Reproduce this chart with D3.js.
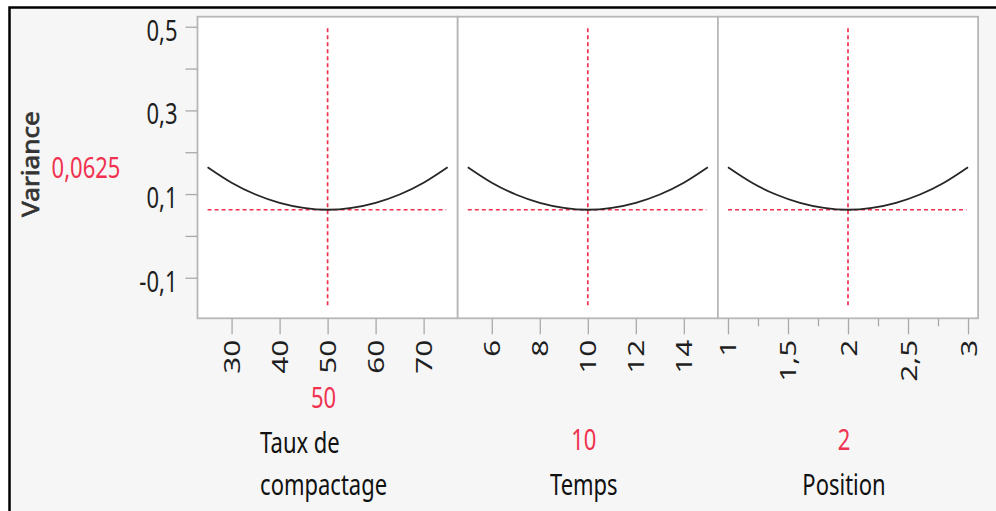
<!DOCTYPE html>
<html>
<head>
<meta charset="utf-8">
<script src="https://cdn.jsdelivr.net/npm/d3@7"></script>
<style>
  html, body { margin: 0; padding: 0; background: #fff; }
  svg { display: block; }
</style>
</head>
<body>
<div id="chart"></div>
<script>
// values
var tauxX = [25, 30, 35, 40, 45, 50, 55, 60, 65, 70, 75];
var tauxVar = [0.164, 0.127, 0.099, 0.079, 0.067, 0.0625, 0.067, 0.079, 0.099, 0.127, 0.164];
var tempsX = [5, 6, 7, 8, 9, 10, 11, 12, 13, 14, 15];
var tempsVar = [0.164, 0.127, 0.099, 0.079, 0.067, 0.0625, 0.067, 0.079, 0.099, 0.127, 0.164];
var positionX = [1, 1.2, 1.4, 1.6, 1.8, 2, 2.2, 2.4, 2.6, 2.8, 3];
var positionVar = [0.164, 0.127, 0.099, 0.079, 0.067, 0.0625, 0.067, 0.079, 0.099, 0.127, 0.164];

var tauxTicks = [30, 40, 50, 60, 70];
var tempsTicks = [6, 8, 10, 12, 14];
var positionTicks = [1, 1.5, 2, 2.5, 3];
var positionMinor = [1.25, 1.75, 2.25, 2.75];
var yTicks = [-0.1, 0.1, 0.3, 0.5];
var yMinor = [0, 0.2, 0.4];

var currentVariance = 0.0625;
var currentTaux = 50, currentTemps = 10, currentPosition = 2;
var yLabel = "Variance";

var width = 996,
    height = 511;

var red = "#f0314f",
    font = "'Noto Sans', 'Liberation Sans', sans-serif",
    stretch = 1.35;  // the screenshot is taller than it is wide

var top_ = 16.7, bottom_ = 318.3,
    left_ = 197.5, panelW = 260.2;

var fmt = d => String(d).replace(".", ",");

var svg = d3.select("#chart").append("svg")
    .attr("width", width)
    .attr("height", height);

// grey frame with black border
svg.append("rect")
    .attr("x", 9.5).attr("y", 7.5)
    .attr("width", 1100).attr("height", 600)
    .attr("fill", "#f6f6f6")
    .attr("stroke", "#000")
    .attr("stroke-width", 2.5);

var y = d3.scaleLinear()
    .domain([-0.197, 0.524])
    .range([bottom_, top_]);

var panels = [
  {title: ["Taux de", "compactage"], xs: tauxX, vs: tauxVar, domain: [22.9, 77.1], ticks: tauxTicks, minor: [], cur: currentTaux},
  {title: ["Temps"], xs: tempsX, vs: tempsVar, domain: [4.58, 15.42], ticks: tempsTicks, minor: [], cur: currentTemps},
  {title: ["Position"], xs: positionX, vs: positionVar, domain: [0.916, 3.084], ticks: positionTicks, minor: positionMinor, cur: currentPosition}
];

panels.forEach(function(p, i) {
  var x0 = left_ + i * panelW;
  var x = d3.scaleLinear().domain(p.domain).range([x0, x0 + panelW]);

  svg.append("rect")
    .attr("x", x0).attr("y", top_)
    .attr("width", panelW).attr("height", bottom_ - top_)
    .attr("fill", "#fff")
    .attr("stroke", "#b7b7b7")
    .attr("stroke-width", 1.8);

  // major ticks + rotated labels
  var gx = svg.append("g")
    .attr("transform", `translate(0,${bottom_})`)
    .call(d3.axisBottom(x).tickValues(p.ticks).tickSize(16).tickFormat(fmt));
  gx.select(".domain").remove();
  gx.selectAll(".tick line").attr("stroke", "#a9a9a9").attr("stroke-width", 1.3);
  gx.selectAll(".tick text")
    .attr("x", null).attr("y", null).attr("dy", null)
    .attr("text-anchor", "end")
    .attr("transform", `translate(8,21.5) rotate(-90) scale(${stretch},1)`)
    .style("font-family", font)
    .style("font-size", "22px")
    .attr("fill", "#1e1e1e");

  if (p.minor.length) {
    var gm = svg.append("g")
      .attr("transform", `translate(0,${bottom_})`)
      .call(d3.axisBottom(x).tickValues(p.minor).tickSize(8).tickFormat(""));
    gm.select(".domain").remove();
    gm.selectAll(".tick line").attr("stroke", "#a9a9a9").attr("stroke-width", 1.3);
  }

  // current setting cross hair
  svg.append("line")
    .attr("x1", x(p.cur)).attr("x2", x(p.cur))
    .attr("y1", top_ + 11.6).attr("y2", bottom_ - 10)
    .attr("stroke", red).attr("stroke-width", 1.7)
    .attr("stroke-dasharray", "4,3");

  svg.append("line")
    .attr("x1", x(d3.min(p.xs))).attr("x2", x(d3.max(p.xs)) - 1.5)
    .attr("y1", y(currentVariance)).attr("y2", y(currentVariance))
    .attr("stroke", red).attr("stroke-width", 1.7)
    .attr("stroke-dasharray", "4,3");

  var line = d3.line()
    .x((d, j) => x(p.xs[j]))
    .y(d => y(d))
    .curve(d3.curveNatural);

  svg.append("path")
    .datum(p.vs)
    .attr("fill", "none")
    .attr("stroke", "#262626")
    .attr("stroke-width", 1.8)
    .attr("d", line);

  // factor name and its current value under the panel
  var cx = x0 + panelW / 2 - 4;
  var n = p.title.length;
  var tg = svg.append("g");
  p.title.forEach(function(t, k) {
    tg.append("text")
      .attr("transform", `translate(${cx},${495 - 42 * (n - 1 - k)}) scale(1,${stretch})`)
      .attr("text-anchor", "middle")
      .style("font-family", font)
      .style("font-size", "22px")
      .attr("fill", "#111")
      .text(t);
  });
  if (n > 1) {
    // left-align the lines of a wrapped title, block stays centred
    var texts = tg.selectAll("text");
    var maxW = d3.max(texts.nodes(), nd => nd.getComputedTextLength());
    texts.attr("text-anchor", "start")
      .attr("transform", (d, k) => `translate(${cx - maxW / 2},${495 - 42 * (n - 1 - k)}) scale(1,${stretch})`);
  }

  svg.append("text")
    .attr("transform", `translate(${cx},${495 - 42 * n - 3}) scale(1,${stretch})`)
    .attr("text-anchor", "middle")
    .style("font-family", font)
    .style("font-size", "22px")
    .attr("fill", red)
    .text(fmt(p.cur));
});

// y axis
var gy = svg.append("g")
  .attr("transform", `translate(${left_},0)`)
  .call(d3.axisLeft(y).tickValues(yTicks).tickSize(12).tickPadding(8).tickFormat(fmt));
gy.select(".domain").remove();
gy.selectAll(".tick line").attr("stroke", "#a9a9a9").attr("stroke-width", 1.3);
gy.selectAll(".tick text")
  .attr("dy", "0.45em")
  .attr("transform", `scale(1,${stretch})`)
  .style("font-family", font)
  .style("font-size", "22px")
  .attr("fill", "#1e1e1e");

var gy2 = svg.append("g")
  .attr("transform", `translate(${left_},0)`)
  .call(d3.axisLeft(y).tickValues(yMinor).tickSize(12).tickFormat(""));
gy2.select(".domain").remove();
gy2.selectAll(".tick line").attr("stroke", "#a9a9a9").attr("stroke-width", 1.3);

svg.append("text")
  .attr("transform", `translate(39,164) rotate(-90) scale(1.14,1)`)
  .attr("text-anchor", "middle")
  .style("font-family", font)
  .style("font-size", "23px")
  .attr("fill", "#333")
  .attr("stroke", "#333")
  .attr("stroke-width", 0.7)
  .text(yLabel);

svg.append("text")
  .attr("transform", `translate(86,178) scale(1,${stretch})`)
  .attr("text-anchor", "middle")
  .style("font-family", font)
  .style("font-size", "22px")
  .attr("fill", red)
  .text(fmt(currentVariance));
</script>
</body>
</html>
